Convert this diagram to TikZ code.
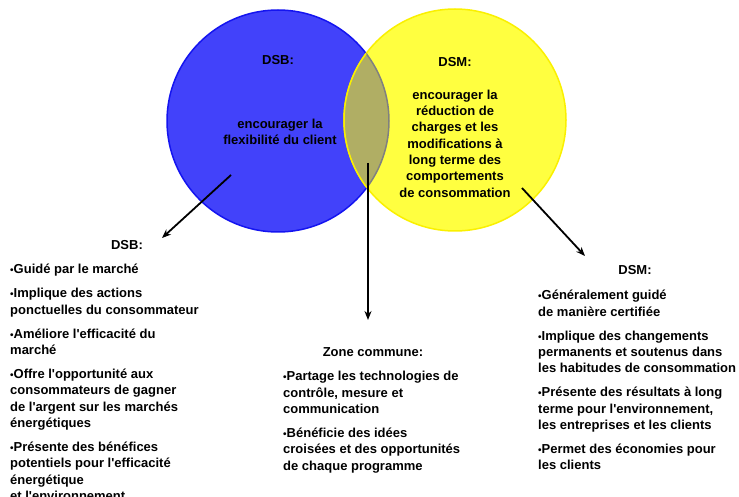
\documentclass[tikz,border=0pt]{standalone}
\usepackage{fontspec}
\setmainfont{Liberation Sans}[Ligatures=TeXOff]
\usetikzlibrary{arrows.meta}
\definecolor{dsbblue}{RGB}{66,66,250}
\definecolor{dsbedge}{RGB}{20,20,240}
\definecolor{dsmyellow}{RGB}{255,255,64}
\definecolor{dsmedge}{RGB}{250,240,0}
\definecolor{lenscol}{RGB}{176,174,100}
\definecolor{lensedge}{RGB}{128,128,128}
\newcommand\bul{{\fontsize{10}{10}\selectfont•}}
\begin{document}
\begin{tikzpicture}[x=1pt,y=-1pt,
  txt/.style={font=\fontsize{13}{16.3}\selectfont\bfseries, inner sep=0pt},
  blk/.style={txt, align=left, anchor=north west},
  ctr/.style={txt, align=center},
  conn/.style={line width=1.8pt, -{Stealth[length=9pt,width=7pt]}}]
\useasboundingbox (0,0) rectangle (739,497);
% circles
\node[circle, minimum size=222pt, inner sep=0pt, fill=dsbblue, draw=dsbedge, line width=1.5pt] (cb) at (278,121) {};
\node[circle, minimum size=222pt, inner sep=0pt, fill=dsmyellow, draw=dsmedge, line width=1.5pt] (cy) at (455,120) {};
\begin{scope}
  \clip (278,121) circle (111pt);
  \fill[lenscol] (455,120) circle (111pt);
\end{scope}
\begin{scope}
  \clip (455,120) circle (111pt);
  \draw[lensedge, line width=1.5pt] (278,121) circle (111pt);
\end{scope}
\begin{scope}
  \clip (278,121) circle (111pt);
  \draw[dsmedge, line width=1.5pt] (455,120) circle (111pt);
\end{scope}
% texts in circles
\node[ctr] (tdsb) at (278,60) {DSB:};
\node[ctr] (tdsbtxt) at (280,132) {encourager la\\flexibilité du client};
\node[ctr] (tdsm) at (455,62) {DSM:};
\node[ctr] (tdsmtxt) at (455,143.5) {encourager la\\réduction de\\charges et les\\modifications à\\long terme des\\comportements\\de consommation};
% headings
\node[ctr] (hdsb) at (127,245) {DSB:};
\node[ctr] (hzc) at (373,352) {Zone commune:};
\node[ctr] (hdsm) at (635,270) {DSM:};
% blocks
\node[blk] (bdsb) at (10,262.3) {\strut\bul Guidé par le marché\\[7.7pt]
\bul Implique des actions\\ponctuelles du consommateur\\[7.7pt]
\bul Améliore l'efficacité du\\marché\\[7.7pt]
\bul Offre l'opportunité aux\\consommateurs de gagner\\de l'argent sur les marchés\\énergétiques\\[7.7pt]
\bul Présente des bénéfices\\potentiels pour l'efficacité\\énergétique\\et l'environnement};
\node[blk] (bzc) at (283,369.3) {\strut\bul Partage les technologies de\\contrôle, mesure et\\communication\\[7.7pt]
\bul Bénéficie des idées\\croisées et des opportunités\\de chaque programme};
\node[blk] (bdsm) at (538,288.3) {\strut\bul Généralement guidé\\de manière certifiée\\[7.7pt]
\bul Implique des changements\\permanents et soutenus dans\\les habitudes de consommation\\[7.7pt]
\bul Présente des résultats à long\\terme pour l'environnement,\\les entreprises et les clients\\[7.7pt]
\bul Permet des économies pour\\les clients};
% connectors
\coordinate (a1s) at (231,175);
\coordinate (a1e) at (162,238);
\coordinate (a2s) at (368,163);
\coordinate (a2e) at (368,320);
\coordinate (a3s) at (522,188);
\coordinate (a3e) at (585,256);
\draw[conn] (a1s) -- (a1e);
\draw[conn] (a2s) -- (a2e);
\draw[conn] (a3s) -- (a3e);
\end{tikzpicture}
\end{document}
